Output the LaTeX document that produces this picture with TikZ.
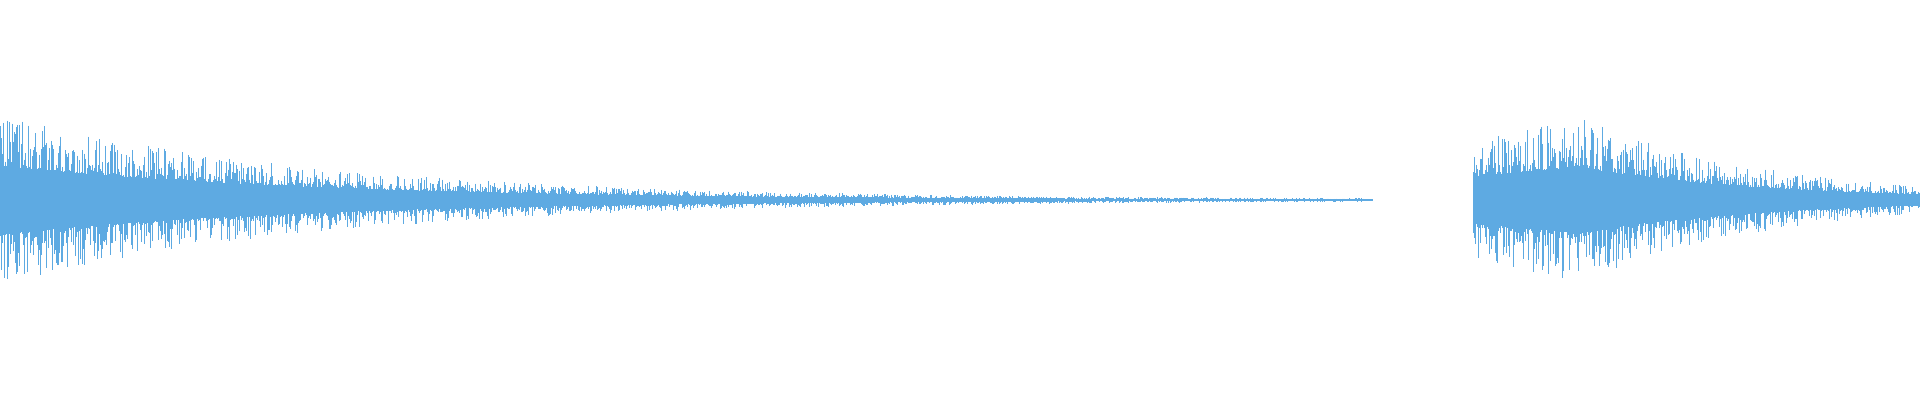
\documentclass[tikz,border=0pt]{standalone}
\usepackage{tikz}
\definecolor{wavecol}{RGB}{94,170,226}
\tikzset{wave/.style={draw=wavecol,line width=0.8pt}}
\begin{document}
\begin{tikzpicture}[x=1pt,y=1pt,yscale=-1,xscale=1]
    \pgfmathsetseed{4711}
    %frame of the picture
    \useasboundingbox (0,0) rectangle (1920,400);
    %first burst, decaying
    \foreach \x in {0,...,1372} {
      \pgfmathsetmacro{\amp}{85*exp(-\x/320)+0.6}
      \pgfmathsetmacro{\ra}{random(0,1000)/1000}
      \pgfmathsetmacro{\rb}{random(0,1000)/1000}
      \pgfmathsetmacro{\up}{\amp*(0.4+0.6*\ra*\ra)}
      \pgfmathsetmacro{\dn}{\amp*(0.4+0.6*\rb*\rb)}
      \draw[wave] (\x,200-\up) -- (\x,200+\dn);
    }
    %second burst
    \foreach \x in {1473,...,1920} {
      \pgfmathsetmacro{\amp}{(\x<1580 ? 60+22*(\x-1473)/107 : 82*exp(-(\x-1580)/190))}
      \pgfmathsetmacro{\ra}{random(0,1000)/1000}
      \pgfmathsetmacro{\rb}{random(0,1000)/1000}
      \pgfmathsetmacro{\up}{\amp*(0.4+0.6*\ra*\ra)}
      \pgfmathsetmacro{\dn}{\amp*(0.4+0.6*\rb*\rb)}
      \draw[wave] (\x,200-\up) -- (\x,200+\dn);
    }
\end{tikzpicture}
\end{document}
